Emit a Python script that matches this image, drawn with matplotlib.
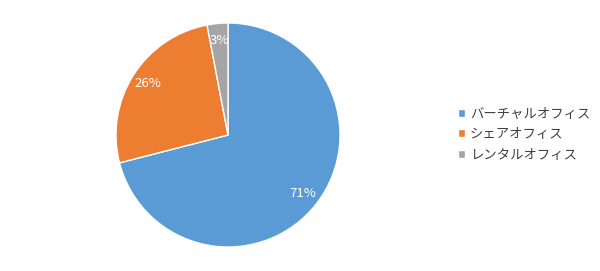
import matplotlib.pyplot as plt

plt.rcParams['font.family'] = ['Noto Sans CJK JP', 'DejaVu Sans']

# data
labels = ['バーチャルオフィス', 'シェアオフィス', 'レンタルオフィス']
values = [71, 26, 3]
colors = ['#5B9BD5', '#ED7D31', '#A5A5A5']

fig = plt.figure(figsize=(6, 2.71), dpi=100)
# pie centre ~ (228,135) px, radius ~112 px
ax = fig.add_axes([116 / 600, 24 / 271, 224 / 600, 224 / 271])

wedges, texts, autotexts = ax.pie(
    values, colors=colors, startangle=90, counterclock=False,
    autopct='%d%%', pctdistance=0.85,
    wedgeprops=dict(edgecolor='white', linewidth=1),
    textprops=dict(color='white', fontsize=9.5))
ax.set_xlim(-1, 1)
ax.set_ylim(-1, 1)

leg = fig.legend(wedges, labels, loc='center left',
                 bbox_to_anchor=(446 / 600, 1 - 134 / 271),
                 frameon=False, fontsize=9.6, handlelength=0.55, handleheight=0.55,
                 handletextpad=0.35, labelspacing=0.5)
for t in leg.get_texts():
    t.set_color('#404040')

plt.savefig('out.png', dpi=100)
